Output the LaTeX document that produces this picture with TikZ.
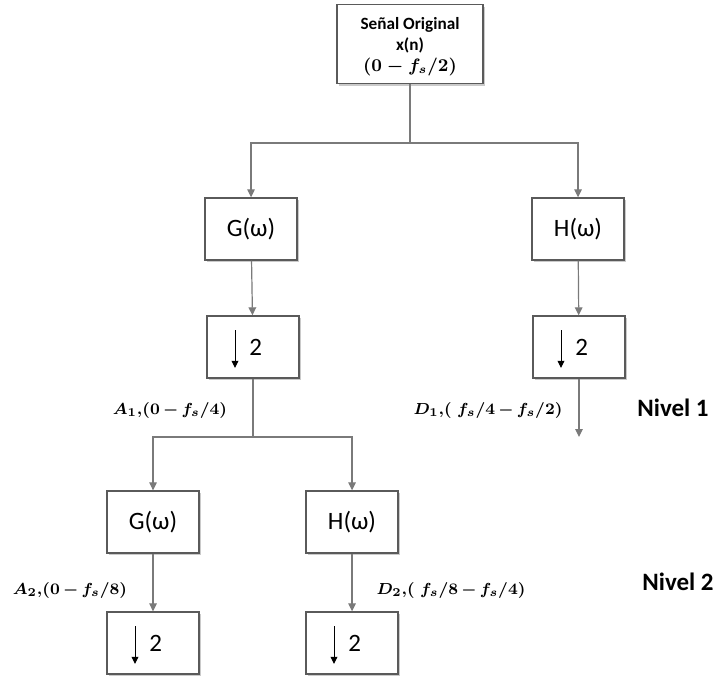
\documentclass[tikz,border=0pt]{standalone}
\usepackage{amsmath,amssymb,bm}
\usepackage{fontspec}
\setmainfont{Carlito}
\usepackage{xcolor}
\usepackage{tikz}
\usetikzlibrary{arrows.meta,positioning,shadows}
\definecolor{linec}{HTML}{7A7A7A}
\definecolor{boxc}{HTML}{5A5A5A}
\newcommand{\lblfont}{\fontsize{7.9}{10}\selectfont\boldmath}
\newcommand{\bmin}{\mskip3mu{-}\mskip3mu}
\tikzset{
  ar/.style={-{Triangle[length=4pt,width=3.8pt]},linec,line width=0.6pt},
  ln/.style={linec,line width=0.6pt},
  blk/.style={draw=boxc,line width=0.7pt,fill=white,minimum width=46pt,minimum height=31pt,inner sep=2pt,
    font=\fontsize{12.5}{14}\selectfont,
    drop shadow={shadow xshift=1pt,shadow yshift=-1.2pt,opacity=0.35,fill=black!60}},
  dsar/.style={-{Triangle[length=3.6pt,width=3.4pt]},black,line width=0.5pt},
  lbl/.style={font=\lblfont,inner sep=0pt},
  lvl/.style={font=\bfseries\fontsize{12.5}{14}\selectfont,inner sep=0pt}
}
\begin{document}
\begin{tikzpicture}[x=0.5pt,y=-0.5pt]
\useasboundingbox (0,0) rectangle (718,676);
% fuente
\node[blk,minimum width=73pt,minimum height=39.5pt,align=center,
  font=\bfseries\boldmath\fontsize{8.6}{10.6}\selectfont] (src) at (410,44)
  {\rule{0pt}{9pt}Señal Original\\x(n)\\$(0-f_s/2)$};
% nivel 1
\node[blk] (g1) at (251,229) {G(ω)};
\node[blk] (h1) at (578,229) {H(ω)};
\node[blk] (d1) at (253,347) {\ 2};
\node[blk] (d2) at (579,347) {\ 2};
% nivel 2
\node[blk] (g2) at (153,522) {G(ω)};
\node[blk] (h2) at (352,522) {H(ω)};
\node[blk] (d3) at (153,643) {\ 2};
\node[blk] (d4) at (352,643) {\ 2};
\coordinate (s0) at (410,143);
\coordinate (s1) at (253,437);
\coordinate (e1) at (579,437);
% conexiones
\draw[ln] (src.south) -- (s0);
\draw[ar] (s0) -| (g1.north);
\draw[ar] (s0) -| (h1.north);
\draw[ar] (g1) -- (d1);
\draw[ar] (h1) -- (d2);
\draw[ln] (d1.south) -- (s1);
\draw[ar] (s1) -| (g2.north);
\draw[ar] (s1) -| (h2.north);
\draw[ar] (d2.south) -- (e1);
\draw[ar] (g2) -- (d3);
\draw[ar] (h2) -- (d4);
% flechas de diezmado
\foreach \b in {d1,d2,d3,d4}
  \draw[dsar] ([xshift=-9pt,yshift=8.5pt]\b.center) -- ([xshift=-9pt,yshift=-10.5pt]\b.center);
% etiquetas
\node[lbl] (a1) at (170,410) {$A_1{,}(0\bmin f_s/4)$};
\node[lbl] (dd1) at (488,410) {$D_1{,}(\;f_s/4\bmin f_s/2)$};
\node[lbl] (a2) at (70,590) {$A_2{,}(0\bmin f_s/8)$};
\node[lbl] (dd2) at (451,590) {$D_2{,}(\;f_s/8\bmin f_s/4)$};
\node[lvl] (n1) at (673,408) {Nivel 1};
\node[lvl] (n2) at (678,582) {Nivel 2};
\end{tikzpicture}
\end{document}
